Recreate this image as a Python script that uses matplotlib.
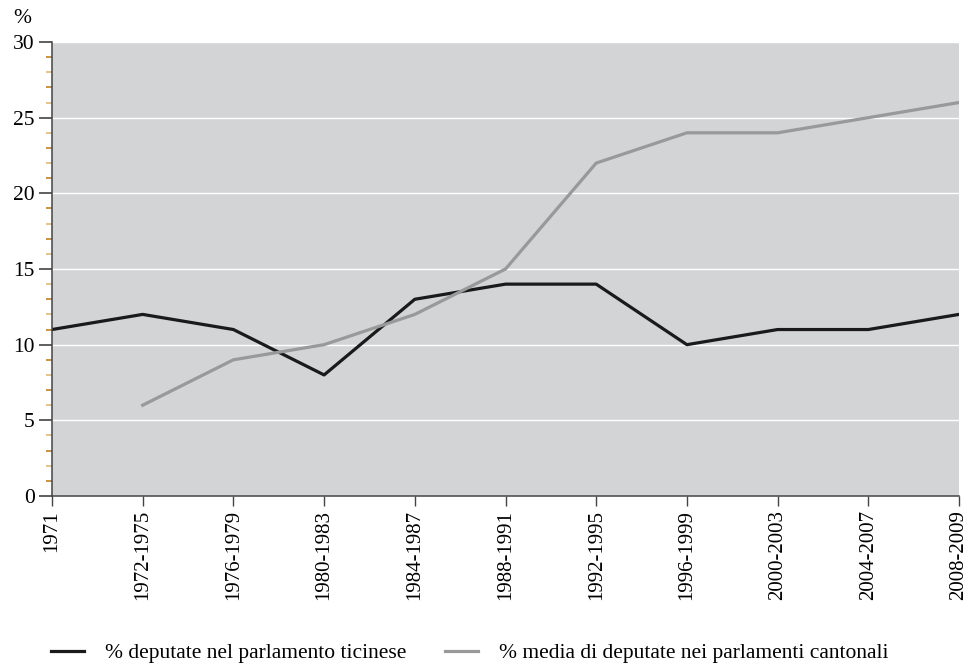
import matplotlib
matplotlib.use("Agg")
import matplotlib.pyplot as plt
from matplotlib.ticker import MultipleLocator
import numpy as np

periods = ["1971", "1972-1975", "1976-1979", "1980-1983", "1984-1987", "1988-1991",
           "1992-1995", "1996-1999", "2000-2003", "2004-2007", "2008-2009"]
ticino = [11, 12, 11, 8, 13, 14, 14, 10, 11, 11, 12]
cantonal_avg = [np.nan, 6, 9, 10, 12, 15, 22, 24, 24, 25, 26]

plt.rcParams["font.family"] = "serif"
plt.rcParams["font.serif"] = ["Liberation Serif", "DejaVu Serif"]

fig = plt.figure(figsize=(9.73, 6.65), dpi=100)
ax = fig.add_axes([52 / 973, 1 - 496 / 665, (959 - 52) / 973, (496 - 42) / 665])
ax.set_facecolor("#d3d4d6")

x = np.arange(len(periods))
ax.plot(x, ticino, color="#1a1a1a", lw=2.3,
        label="% deputate nel parlamento ticinese")
ax.plot(x, cantonal_avg, color="#999999", lw=2.3,
        label="% media di deputate nei parlamenti cantonali")

ax.set_xlim(0, len(periods) - 1)
ax.set_ylim(0, 30)
ax.set_xticks(x)
ax.set_xticklabels(periods, rotation=90, fontsize=15)
ax.yaxis.set_major_locator(MultipleLocator(5))
ax.yaxis.set_minor_locator(MultipleLocator(1))
ax.tick_params(axis="y", which="major", length=9.4, width=1.1, color="#333333",
               labelsize=15.5, pad=3)
ax.tick_params(axis="y", which="minor", length=4.3, width=1.1, color="#c99440")
ax.tick_params(axis="x", which="major", length=7.2, width=1.0, color="#444444", pad=3)

ax.grid(axis="y", color="white", lw=1.0)
ax.set_axisbelow(True)
for side in ("top", "right"):
    ax.spines[side].set_visible(False)
for side in ("left", "bottom"):
    ax.spines[side].set_color("#444444")
    ax.spines[side].set_linewidth(1.1)

fig.text(13 / 973, 1 - 18.5 / 665, "%", fontsize=15.5, ha="left", va="center")

fig.legend(loc="center", bbox_to_anchor=(470 / 973, 1 - 653 / 665), ncol=2,
           frameon=False, fontsize=15.5, handlelength=1.5, columnspacing=1.8,
           handletextpad=1.0)

# minor ticks alternate between two amber shades
fig.canvas.draw()
minor_locs = ax.yaxis.get_minorticklocs()
for loc, tick in zip(minor_locs, ax.yaxis.get_minor_ticks(len(minor_locs))):
    tick.tick1line.set_color("#b9780f" if int(round(loc)) % 2 else "#dcb36e")
    tick.tick1line.set_markeredgecolor("#b9780f" if int(round(loc)) % 2 else "#dcb36e")

fig.savefig("out.png", dpi=100)
